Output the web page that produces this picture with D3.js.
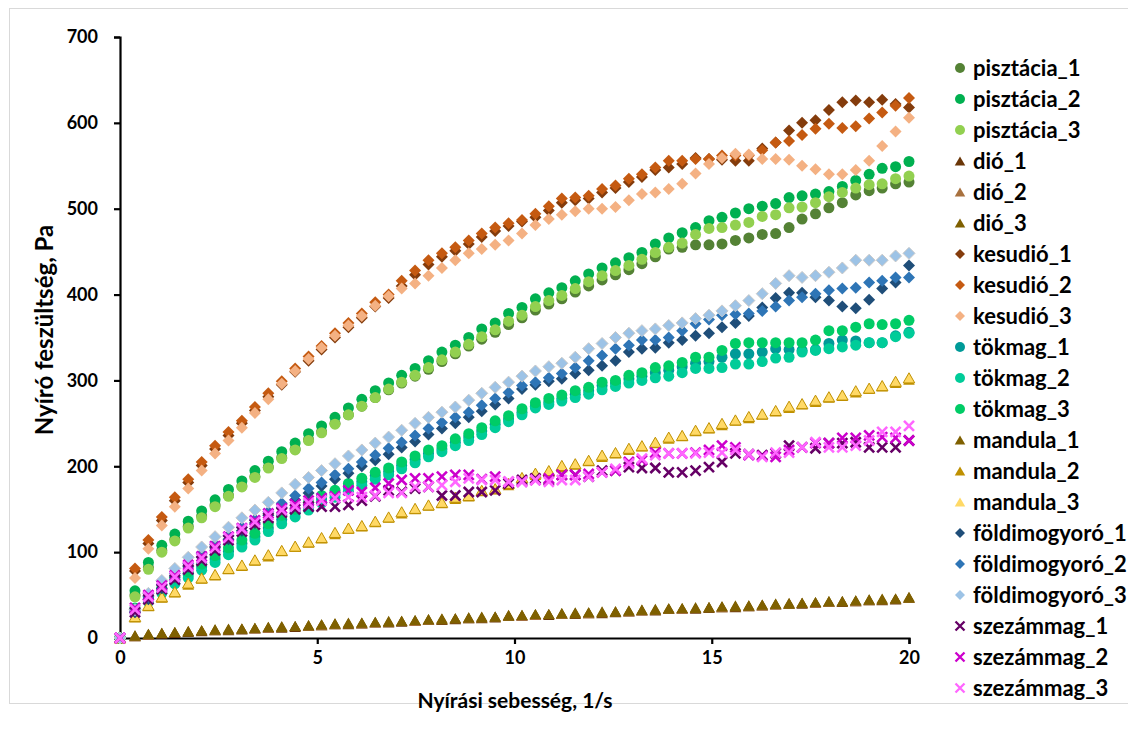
<!DOCTYPE html>
<html><head><meta charset="utf-8">
<script src="https://cdn.jsdelivr.net/npm/d3@7"></script>
<style>
html,body{margin:0;padding:0;background:#fff;}
text{font-family:Lato,"Open Sans",sans-serif;}
</style></head>
<body><svg id="c" width="1128" height="731"></svg>
<script>
// shear rate (1/s)
const shearRate = [0,0.38,0.72,1.06,1.39,1.73,2.07,2.41,2.75,3.09,3.42,3.76,4.10,4.44,4.78,5.11,5.45,5.79,6.13,6.47,6.81,7.14,7.48,7.82,8.16,8.50,8.84,9.17,9.51,9.85,10.19,10.53,10.87,11.20,11.54,11.88,12.22,12.56,12.90,13.23,13.57,13.91,14.25,14.59,14.93,15.26,15.60,15.94,16.28,16.62,16.96,17.29,17.63,17.97,18.31,18.65,18.99,19.32,19.66,20.00];
const xTicks = [0,5,10,15,20];
const yTicks = [0,100,200,300,400,500,600,700];

const pisztacia1 = [0,50,82,102,115,130,142,155,166,177,188,199,210,220,231,240,250,260,270,280,289,297,305,313,322,331,340,348,356,365,373,382,389,395,403,410,417,423,429,436,444,453,455,458,458,459,463,466,470,471,478,488,494,501,507,516,521,524,529,531];
const pisztacia2 = [0,55,88,108,121,136,148,161,173,183,195,206,217,227,238,247,257,268,278,288,297,306,314,323,333,341,350,360,367,378,385,395,402,408,416,424,431,437,443,449,459,466,472,478,486,490,495,500,503,506,513,515,517,520,526,533,540,547,549,555];
const pisztacia3 = [0,48,80,100,113,128,140,153,165,176,187,198,209,219,230,239,249,260,270,280,290,298,306,315,324,333,342,351,359,369,376,386,393,399,407,415,422,428,434,441,449,455,460,470,477,478,481,484,491,493,501,502,507,514,519,524,528,529,535,538];
const dio1 = [0,2,4,5,6,7,8,9,9,10,11,12,12,13,14,15,16,16,17,18,18,19,20,21,21,22,23,23,24,26,26,27,27,28,28,29,29,30,31,32,32,34,34,34,35,36,36,37,38,39,40,40,41,42,42,43,44,44,45,47];
const dio2 = [0,2,4,6,7,8,9,9,10,11,11,12,13,14,14,15,16,17,17,18,19,20,20,21,22,23,23,24,25,26,26,27,28,28,29,29,30,31,31,32,33,34,34,35,36,36,37,37,38,39,40,41,41,42,43,43,44,45,46,47];
const dio3 = [0,3,5,6,7,8,9,10,10,11,12,13,13,14,15,16,17,17,18,19,19,20,21,22,22,23,24,24,25,27,27,28,28,29,29,30,30,31,32,33,33,35,35,35,36,37,37,38,39,40,41,41,42,43,43,44,45,45,46,48];
const kesudio1 = [0,78,110,137,160,181,201,220,236,250,265,281,295,310,323,336,350,362,373,386,396,410,423,435,444,451,459,467,474,480,485,490,498,507,510,512,519,524,531,537,545,548,552,559,558,557,556,556,570,577,591,600,603,615,624,626,624,627,622,618];
const kesudio2 = [0,81,114,141,164,185,205,224,240,253,269,285,299,314,328,340,355,367,378,391,400,416,428,440,448,455,463,471,478,483,487,494,503,512,513,515,523,527,535,540,548,556,556,558,558,562,562,562,568,577,579,586,593,599,594,596,605,612,620,629];
const kesudio3 = [0,70,104,131,153,174,195,215,230,245,262,278,296,311,325,338,352,364,375,387,398,407,413,422,431,440,448,453,458,463,471,481,488,493,497,500,500,502,510,517,519,523,529,541,552,559,564,563,558,558,557,550,546,540,540,545,556,573,590,606];
const tokmag1 = [0,33,45,55,67,74,83,92,101,110,118,128,138,146,154,162,168,176,182,189,194,201,208,215,220,228,234,241,249,255,263,270,275,279,284,288,294,297,302,305,309,312,316,320,322,327,331,331,333,337,336,335,336,343,347,346,344,344,352,356];
const tokmag2 = [0,30,42,52,63,70,79,88,97,106,114,124,133,141,149,157,164,171,178,185,190,197,204,211,217,224,230,237,245,252,260,268,272,276,280,284,289,293,297,300,303,305,309,314,314,315,319,319,322,326,327,333,335,337,339,341,344,344,351,355];
const tokmag3 = [0,35,47,58,70,77,86,96,105,114,122,133,143,150,158,166,172,180,186,193,198,205,212,219,224,232,238,245,253,259,267,274,279,283,288,292,298,300,306,309,315,317,321,327,327,335,343,344,344,344,344,344,347,358,358,362,366,365,366,370];
const mandula1 = [0,3,5,6,7,8,9,10,11,11,12,13,14,14,15,16,17,18,18,19,20,20,21,22,23,23,24,25,25,26,27,28,28,29,30,30,31,31,32,33,34,34,35,36,36,37,38,38,39,40,40,41,42,43,43,44,45,46,46,47];
const mandula2 = [0,24,37,47,53,62,69,73,80,84,90,95,101,106,111,116,121,127,130,135,140,145,150,154,157,162,165,171,173,178,186,190,194,199,202,206,211,215,219,223,227,232,235,241,244,248,253,256,260,264,268,272,275,280,282,286,290,293,297,301];
const mandula3 = [0,25,38,48,54,64,70,74,81,85,91,97,102,107,112,117,123,128,131,136,141,147,151,155,158,164,166,172,174,180,187,192,195,201,203,207,213,216,221,224,228,234,236,242,245,250,254,258,261,265,270,273,277,281,283,288,291,294,299,303];
const foldimogyoro1 = [0,30,45,58,71,83,94,105,115,125,134,143,152,161,169,177,185,192,200,207,214,222,229,237,244,250,257,264,272,279,290,295,299,302,308,312,317,323,333,337,338,344,347,352,355,362,367,375,385,396,402,402,397,393,386,384,394,407,414,434];
const foldimogyoro2 = [0,32,48,62,75,87,98,109,119,129,138,147,157,166,174,181,190,197,205,213,221,228,236,244,251,257,263,271,279,286,294,298,303,308,315,323,329,337,341,347,347,350,358,366,371,376,377,378,381,386,393,397,401,405,407,408,414,416,420,420];
const foldimogyoro3 = [0,33,52,67,81,94,106,118,129,140,149,158,169,179,187,195,203,212,219,227,234,242,250,257,263,269,277,285,292,298,305,311,316,320,327,337,343,350,355,358,360,364,367,372,376,381,387,393,401,413,422,420,422,426,431,440,440,440,445,448];
const szezammag1 = [0,30,45,57,68,80,90,102,114,124,132,140,146,150,153,153,153,155,160,165,172,170,174,176,166,166,170,170,172,180,184,186,184,190,190,188,195,195,199,198,198,193,193,195,199,205,215,214,213,215,224,222,221,227,227,228,222,222,222,230];
const szezammag2 = [0,35,50,61,73,85,95,107,118,128,137,145,151,156,160,163,165,172,170,175,180,184,186,186,188,190,190,185,188,182,182,184,186,190,190,191,193,195,205,207,216,215,215,216,219,224,222,213,212,211,219,222,227,227,233,233,236,234,233,230];
const szezammag3 = [0,33,48,59,71,83,93,105,117,127,135,143,149,153,157,160,163,164,164,166,169,169,176,176,178,182,186,184,184,182,182,184,182,184,184,188,193,197,203,209,213,215,215,215,216,216,219,214,211,216,216,222,228,222,222,224,230,240,240,247];

const seriesNames = ["pisztácia_1","pisztácia_2","pisztácia_3","dió_1","dió_2","dió_3","kesudió_1","kesudió_2","kesudió_3","tökmag_1","tökmag_2","tökmag_3","mandula_1","mandula_2","mandula_3","földimogyoró_1","földimogyoró_2","földimogyoró_3","szezámmag_1","szezámmag_2","szezámmag_3"];
const seriesValues = [pisztacia1,pisztacia2,pisztacia3,dio1,dio2,dio3,kesudio1,kesudio2,kesudio3,tokmag1,tokmag2,tokmag3,mandula1,mandula2,mandula3,foldimogyoro1,foldimogyoro2,foldimogyoro3,szezammag1,szezammag2,szezammag3];
const seriesShapes = ["circle","circle","circle","triangle","triangle","triangle","diamond","diamond","diamond","circle","circle","circle","triangle","triangle","triangle","diamond","diamond","diamond","cross","cross","cross"];
const seriesColors = ["#548235","#00b050","#92d050","#6a3608","#a8713f","#7f6000","#843c0c","#c55a11","#f4b183","#009a98","#00cc99","#00cc66","#7f6000","#bf9000","#ffd966","#1f4e79","#2e75b6","#9dc3e6","#660066","#cc00cc","#ff66ff"];
const seriesStrokes = [null,null,null,null,null,null,null,null,null,null,null,null,null,null,"#bf9000",null,null,"#c8c8c8",null,null,null];

const svg = d3.select("#c");
svg.append("rect").attr("x",9.5).attr("y",8.5).attr("width",1140).attr("height",695)
  .attr("fill","#fff").attr("stroke","#d9d9d9").attr("stroke-width",1);

const x = d3.scaleLinear().domain([0,20]).range([120,909]);
const y = d3.scaleLinear().domain([0,700]).range([638,37]);

function shapePath(shape, s){
  if(shape==="circle"){ const r=s/2; return `M${-r},0A${r},${r} 0 1,0 ${r},0A${r},${r} 0 1,0 ${-r},0Z`; }
  if(shape==="diamond"){ const r=s/2; return `M0,${-r}L${r},0L0,${r}L${-r},0Z`; }
  if(shape==="triangle"){ const w=s*1.05, h=s*0.92; return `M0,${-h/2}L${w/2},${h/2}L${-w/2},${h/2}Z`; }
  if(shape==="cross"){ const r=s/2; return `M${-r},${-r}L${r},${r}M${r},${-r}L${-r},${r}`; }
}
function drawMarker(g, shape, color, stroke, s){
  const p = g.append("path").attr("d", shapePath(shape,s));
  if(shape==="cross"){ p.attr("fill","none").attr("stroke",color).attr("stroke-width",s*0.26); }
  else { p.attr("fill",color); if(stroke){ p.attr("stroke",stroke).attr("stroke-width",1); } }
  return p;
}

// axes
const yAxis = d3.axisLeft(y).tickValues(yTicks).tickSize(6).tickPadding(16).tickFormat(d3.format("d"));
const xAxis = d3.axisBottom(x).tickValues(xTicks).tickSize(6).tickPadding(7).tickFormat(d3.format("d"));
const gy = svg.append("g").attr("transform","translate(120,0)").call(yAxis);
const gx = svg.append("g").attr("transform","translate(0,638)").call(xAxis);
[gy,gx].forEach(g=>{
  g.select(".domain").attr("stroke","#000").attr("stroke-width",2.2);
  g.selectAll(".tick line").attr("stroke","#000").attr("stroke-width",2.2);
  g.selectAll(".tick text").attr("font-family","Lato, sans-serif").attr("font-weight","bold").attr("font-size",18).attr("fill","#000");
});

// series
const plot = svg.append("g");
seriesNames.forEach((name,i)=>{
  const g = plot.append("g");
  seriesValues[i].forEach((v,j)=>{
    const m = g.append("g").attr("transform",`translate(${x(shearRate[j])},${y(v)})`);
    drawMarker(m, seriesShapes[i], seriesColors[i], seriesStrokes[i], seriesShapes[i]==="diamond"?12:(seriesShapes[i]==="cross"?10:11));
  });
});

// axis titles
svg.append("text").attr("x",515).attr("y",708).attr("text-anchor","middle")
  .attr("font-weight","bold").attr("font-size",21).text("Nyírási sebesség, 1/s");
svg.append("text").attr("transform","translate(53,330) rotate(-90)").attr("text-anchor","middle")
  .attr("font-weight","bold").attr("font-size",24).text("Nyíró feszültség, Pa");

// legend
const lg = svg.append("g");
seriesNames.forEach((name,i)=>{
  const yy = 68 + i*31.0;
  const m = lg.append("g").attr("transform",`translate(960,${yy})`);
  drawMarker(m, seriesShapes[i], seriesColors[i], null, seriesShapes[i]==="cross"?9:10);
  lg.append("text").attr("x",973).attr("y",yy).attr("dy","0.36em")
    .attr("font-weight","bold").attr("font-size",22).attr("fill","#000").text(name);
});
</script></body></html>
